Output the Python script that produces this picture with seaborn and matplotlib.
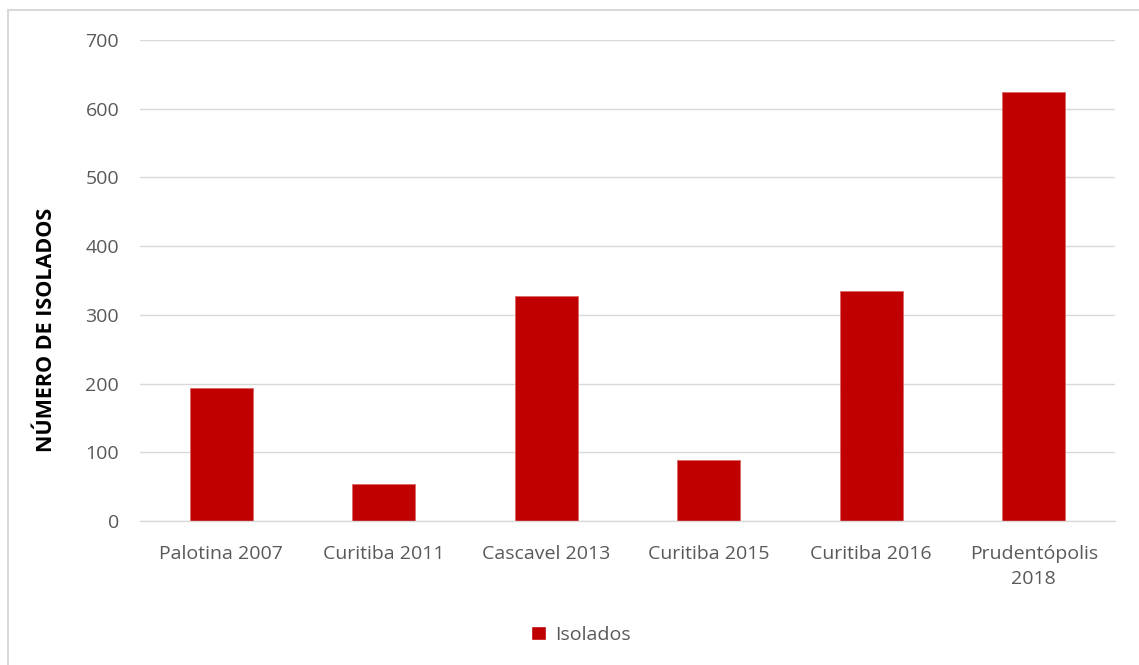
import matplotlib
matplotlib.use("Agg")
import matplotlib.pyplot as plt
import seaborn as sns
import pandas as pd
from matplotlib.patches import Rectangle, Patch

categories = ["Palotina 2007", "Curitiba 2011", "Cascavel 2013", "Curitiba 2015",
              "Curitiba 2016", "Prudentópolis\n2018"]
values = [194, 54, 328, 89, 334, 624]
series_name = "Isolados"
yticks = [0, 100, 200, 300, 400, 500, 600, 700]

sns.set_theme(style="white")
plt.rcParams['font.family'] = ['Open Sans', 'DejaVu Sans']

df = pd.DataFrame({"cat": categories, "val": values})

fig = plt.figure(figsize=(11.39, 6.65), dpi=100)
ax = fig.add_axes([140/1139, 1 - 521/665, (1115-140)/1139, (521-40)/665])

sns.barplot(data=df, x="cat", y="val", color="#C00000", width=0.39, ax=ax,
            saturation=1, edgecolor="#E06666", linewidth=0.6)
ax.set_ylim(0, 700)
ax.set_yticks(yticks)
ax.set_xlim(-0.5, 5.5)
ax.grid(axis="y", color="#D9D9D9", linewidth=1)
ax.set_axisbelow(True)
for s in ["top", "right", "left"]:
    ax.spines[s].set_visible(False)
ax.spines["bottom"].set_color("#D9D9D9")
ax.spines["bottom"].set_linewidth(1)
ax.tick_params(axis="both", colors="#595959", labelsize=14, length=0)
ax.tick_params(axis="y", pad=15)
ax.tick_params(axis="x", pad=17)
for lbl in ax.get_xticklabels():
    lbl.set_linespacing(1.55)
ax.set_xlabel("")
ax.set_ylabel("NÚMERO DE ISOLADOS", fontsize=15.5, fontweight="bold", color="black")
ax.yaxis.set_label_coords(-0.085, 0.397)

leg = fig.legend(handles=[Patch(facecolor="#C00000", label=series_name)],
                 loc="center", bbox_to_anchor=(581/1139, 1 - 635/665), frameon=False,
                 fontsize=14, handlelength=0.75, handleheight=0.75, handletextpad=0.5)
for t in leg.get_texts():
    t.set_color("#595959")

fig.patches.append(Rectangle((8/1139, -0.1), 1.2, 1 - 10/665 + 0.1, transform=fig.transFigure,
                             fill=False, edgecolor="#D9D9D9", linewidth=1.5, zorder=-1))

fig.savefig("out.png", dpi=100)
